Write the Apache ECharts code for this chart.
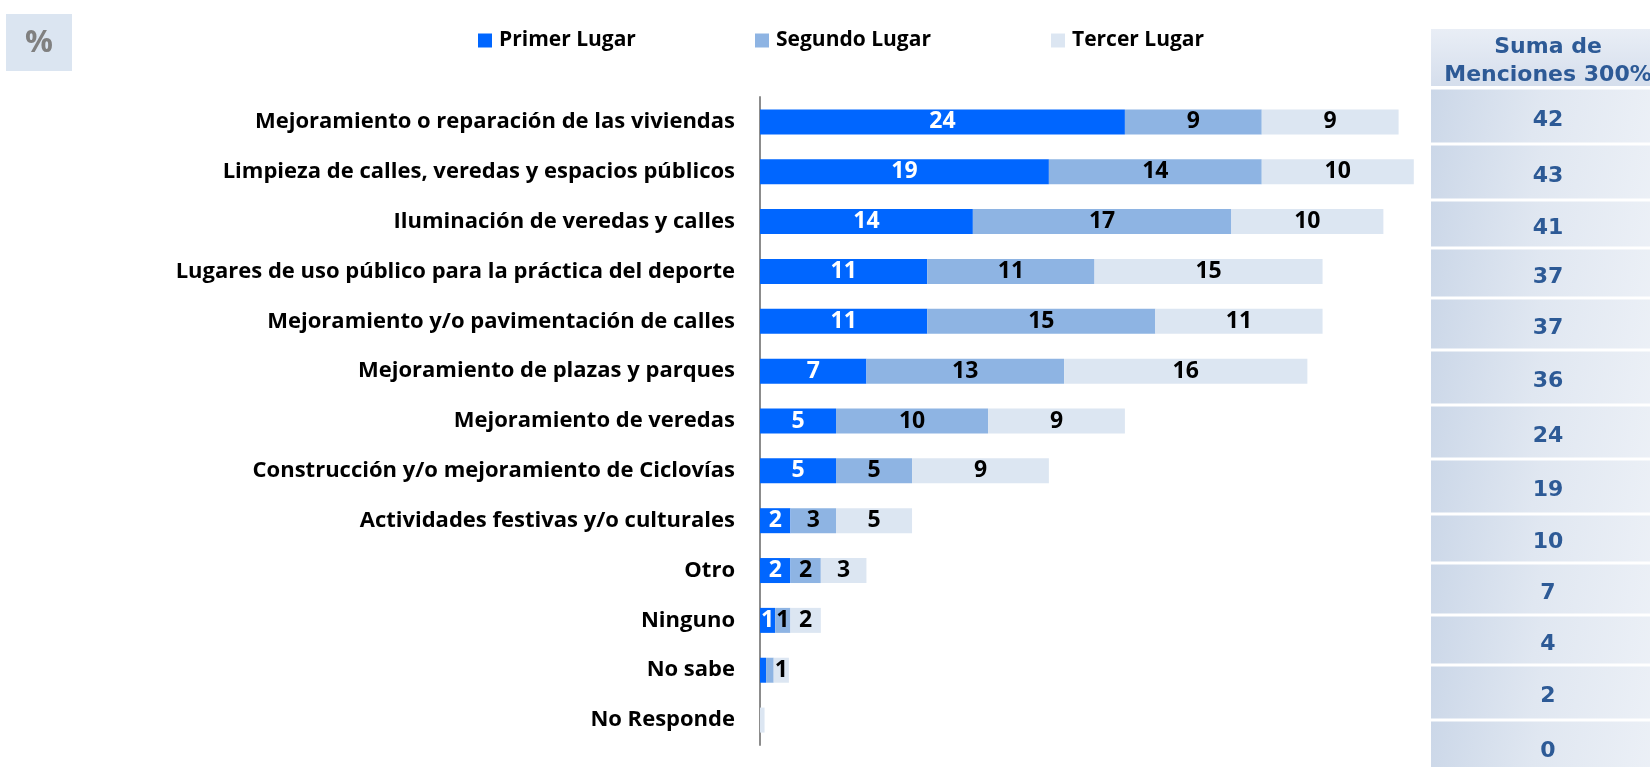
<!DOCTYPE html>
<html>
<head>
<meta charset="utf-8">
<script src="https://cdn.jsdelivr.net/npm/echarts@6/dist/echarts.min.js"></script>
<style>
  html, body { margin: 0; padding: 0; background: #ffffff; }
  #chart { width: 1650px; height: 767px; }
</style>
</head>
<body>
<div id="chart"></div>
<script>
// Prioridades de mejoramiento del barrio (% de menciones)
const categories = [
  'Mejoramiento o reparación de las viviendas',
  'Limpieza de calles, veredas y espacios públicos',
  'Iluminación de veredas y calles',
  'Lugares de uso público para la práctica del deporte',
  'Mejoramiento y/o pavimentación de calles',
  'Mejoramiento de plazas y parques',
  'Mejoramiento de veredas',
  'Construcción y/o mejoramiento de Ciclovías',
  'Actividades festivas y/o culturales',
  'Otro',
  'Ninguno',
  'No sabe',
  'No Responde'
];
const seriesNames = ['Primer Lugar', 'Segundo Lugar', 'Tercer Lugar'];
const primerLugar  = [24, 19, 14, 11, 11, 7, 5, 5, 2, 2, 1, 0.4, 0];
const segundoLugar = [9, 14, 17, 11, 15, 13, 10, 5, 3, 2, 1, 0.5, 0];
const tercerLugar  = [9, 10, 10, 15, 11, 16, 9, 9, 5, 3, 2, 1, 0.3];
const sumaMenciones = [42, 43, 41, 37, 37, 36, 24, 19, 10, 7, 4, 2, 0];
const tableHeader = ['Suma de', 'Menciones 300%'];
const unitLabel = '%';

const COLORS = ['#0066ff', '#8eb4e3', '#dce6f2'];
const LABEL_COLORS = ['#ffffff', '#000000', '#000000'];
const FONT = '"Open Sans", "Noto Sans", sans-serif';
const TABLE_FONT = '"DejaVu Sans", sans-serif';

const chart = echarts.init(document.getElementById('chart'), null, { renderer: 'canvas' });

const seriesData = [primerLugar, segundoLugar, tercerLugar];
const series = seriesData.map((values, i) => ({
  name: seriesNames[i],
  type: 'bar',
  stack: 'lugar',
  barWidth: 25,
  itemStyle: { color: COLORS[i] },
  label: {
    show: true,
    position: 'inside',
    color: LABEL_COLORS[i],
    fontFamily: FONT,
    fontWeight: 'bold',
    fontSize: 23,
    formatter: p => (p.value >= 1 ? String(p.value) : '')
  },
  emphasis: { disabled: true },
  data: values
}));

// Legends placed one per series
const legendLefts = [473, 750, 1046];
const legends = seriesNames.map((name, i) => ({
  data: [name],
  left: legendLefts[i],
  top: 25,
  icon: 'rect',
  itemWidth: 14,
  itemHeight: 14,
  selectedMode: false,
  textStyle: {
    fontFamily: FONT, fontWeight: 'bold', fontSize: 21, color: '#000000',
    padding: [0, 0, 0, 2]
  }
}));

// Side table: "Suma de Menciones 300%"
const TABLE_LEFT = 1431, TABLE_W = 236, TABLE_CX = TABLE_LEFT + 117;
const HEADER_TOP = 29, HEADER_BOTTOM = 86;
// row boundaries of the table cells (pixels)
const ROW_EDGES = [88, 144, 200, 248, 298, 350, 405, 459, 514, 563, 615, 665, 720, 775];
function cellFill() {
  return new echarts.graphic.LinearGradient(0, 0, 1, 1, [
    { offset: 0, color: '#cbd7e8' },
    { offset: 0.45, color: '#e0e7f1' },
    { offset: 1, color: '#edf1f7' }
  ]);
}
const tableElements = [];
tableElements.push({
  type: 'rect',
  shape: { x: TABLE_LEFT, y: HEADER_TOP, width: TABLE_W, height: HEADER_BOTTOM - HEADER_TOP },
  style: { fill: new echarts.graphic.LinearGradient(0, 0, 0, 1, [
    { offset: 0, color: '#e9eef6' },
    { offset: 1, color: '#d5deec' }
  ]) },
  silent: true
});
tableHeader.forEach((line, i) => {
  tableElements.push({
    type: 'text',
    x: TABLE_CX, y: 47 + i * 28,
    style: {
      text: line, fill: '#2d5a96', fontFamily: TABLE_FONT, fontWeight: 'bold',
      fontSize: 22, align: 'center', verticalAlign: 'middle'
    },
    silent: true
  });
});
sumaMenciones.forEach((v, i) => {
  const y0 = ROW_EDGES[i], y1 = ROW_EDGES[i + 1];
  tableElements.push({
    type: 'rect',
    shape: { x: TABLE_LEFT, y: y0 + 1.5, width: TABLE_W, height: y1 - y0 - 3 },
    style: { fill: cellFill() },
    silent: true
  });
  tableElements.push({
    type: 'text',
    x: TABLE_CX, y: (y0 + y1) / 2 + 4,
    style: {
      text: String(v), fill: '#2d5a96', fontFamily: TABLE_FONT, fontWeight: 'bold',
      fontSize: 22, align: 'center', verticalAlign: 'middle'
    },
    silent: true
  });
});

// Unit box at the top-left corner
const unitElements = [
  {
    type: 'rect',
    shape: { x: 6, y: 14, width: 66, height: 57 },
    style: { fill: '#dbe5f1' },
    silent: true
  },
  {
    type: 'text',
    x: 39, y: 43,
    style: {
      text: unitLabel, fill: '#808080', fontFamily: FONT, fontWeight: 'bold',
      fontSize: 31, align: 'center', verticalAlign: 'middle'
    },
    silent: true
  }
];

chart.setOption({
  animation: false,
  backgroundColor: '#ffffff',
  legend: legends,
  grid: { left: 760, right: 221, top: 97, bottom: 22, containLabel: false },
  xAxis: {
    type: 'value', min: 0, max: 44,
    show: false
  },
  yAxis: {
    type: 'category',
    inverse: true,
    data: categories,
    axisLine: { show: true, lineStyle: { color: '#8c8c8c', width: 2 } },
    axisTick: { show: false },
    splitLine: { show: false },
    axisLabel: {
      margin: 25,
      color: '#000000',
      fontFamily: FONT,
      fontWeight: 'bold',
      fontSize: 22
    }
  },
  series: series,
  graphic: unitElements.concat(tableElements)
});
</script>
</body>
</html>
